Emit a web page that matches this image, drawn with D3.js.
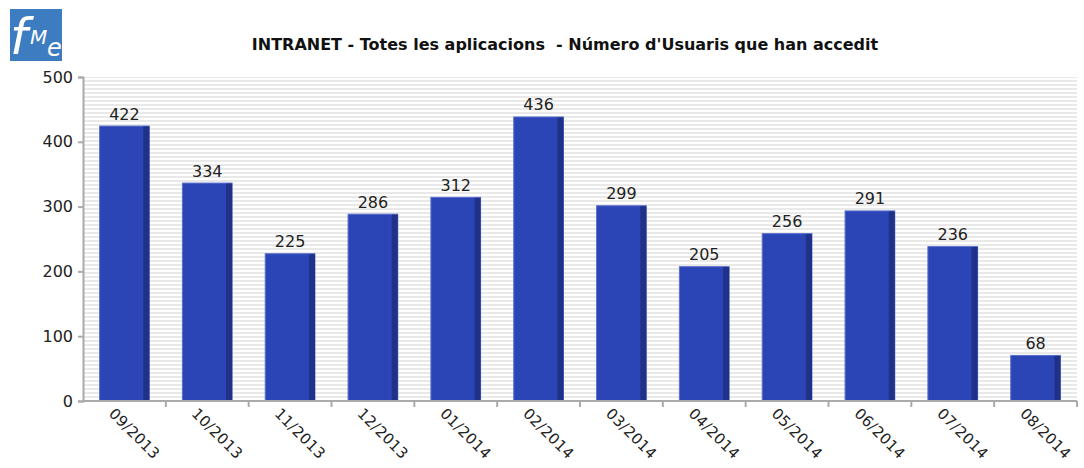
<!DOCTYPE html>
<html>
<head>
<meta charset="utf-8">
<script src="https://cdn.jsdelivr.net/npm/d3@7"></script>
<style>
  body { margin: 0; background: #fff; }
  text { font-family: "DejaVu Sans", sans-serif; }
</style>
</head>
<body>
<div id="chart"></div>
<script>
const months = ['09/2013', '10/2013', '11/2013', '12/2013', '01/2014', '02/2014',
  '03/2014', '04/2014', '05/2014', '06/2014', '07/2014', '08/2014'];
const users = [422, 334, 225, 286, 312, 436, 299, 205, 256, 291, 236, 68];
const yTicks = [0, 100, 200, 300, 400, 500];
const title = "INTRANET - Totes les aplicacions  - Número d'Usuaris que han accedit";

const width = 1084, height = 468;
const margin = { top: 77, right: 7, bottom: 67, left: 83 };

const svg = d3.select('#chart').append('svg')
  .attr('width', width)
  .attr('height', height);

// striped background pattern
const defs = svg.append('defs');
const pat = defs.append('pattern')
  .attr('id', 'stripes')
  .attr('patternUnits', 'userSpaceOnUse')
  .attr('width', 8).attr('height', 4);
pat.append('rect').attr('width', 8).attr('height', 4).attr('fill', '#ffffff');
pat.append('rect').attr('width', 8).attr('height', 2).attr('fill', '#e9e9e9');

const x = d3.scaleBand()
  .domain(months)
  .range([margin.left, width - margin.right])
  .paddingInner(0.4)
  .paddingOuter(0.2);

const y = d3.scaleLinear()
  .domain([0, 500])
  .range([height - margin.bottom, margin.top]);

// plot background
svg.append('rect')
  .attr('x', margin.left).attr('y', margin.top)
  .attr('width', width - margin.left - margin.right)
  .attr('height', y(0) - margin.top)
  .attr('fill', 'url(#stripes)');

// logo
const logo = svg.append('g');
logo.append('rect')
  .attr('x', 10).attr('y', 9).attr('width', 52).attr('height', 52)
  .attr('fill', '#3d7cc0');
logo.append('text')
  .attr('x', 10).attr('y', 54)
  .attr('font-family', '"DejaVu Serif", serif')
  .attr('font-style', 'italic')
  .attr('font-size', 50)
  .attr('fill', '#fff')
  .text('f');
logo.append('text')
  .attr('x', 30).attr('y', 44)
  .attr('font-family', '"DejaVu Serif", serif')
  .attr('font-style', 'italic')
  .attr('font-size', 20)
  .attr('fill', '#fff')
  .text('M');
logo.append('text')
  .attr('x', 47).attr('y', 56)
  .attr('font-family', '"DejaVu Serif", serif')
  .attr('font-style', 'italic')
  .attr('font-size', 24)
  .attr('fill', '#fff')
  .text('e');

// title
svg.append('text')
  .attr('x', 565).attr('y', 50)
  .attr('text-anchor', 'middle')
  .attr('font-size', 16)
  .attr('font-weight', 'bold')
  .attr('fill', '#111')
  .attr('xml:space', 'preserve')
  .style('white-space', 'pre')
  .text(title);

// bars
const bar = svg.append('g')
  .selectAll('g')
  .data(months.map((m, i) => ({ month: m, value: users[i] })))
  .join('g');

bar.append('rect')
  .attr('x', d => x(d.month))
  .attr('y', d => y(d.value) - 1.5)
  .attr('width', x.bandwidth())
  .attr('height', d => y(0) - y(d.value) + 1.5)
  .attr('fill', '#2b45b6')
  .attr('stroke', '#5a6fcc')
  .attr('stroke-width', 1);

bar.append('rect')
  .attr('x', d => x(d.month) + x.bandwidth() - 6)
  .attr('y', d => y(d.value) - 1)
  .attr('width', 6)
  .attr('height', d => y(0) - y(d.value) + 1)
  .attr('fill', '#1f3189');

bar.append('text')
  .attr('x', d => x(d.month) + x.bandwidth() / 2)
  .attr('y', d => y(d.value) - 8)
  .attr('text-anchor', 'middle')
  .attr('font-size', 16)
  .attr('fill', '#222')
  .text(d => d.value);

// y axis
const yAxis = svg.append('g')
  .attr('transform', `translate(${margin.left},0)`)
  .call(d3.axisLeft(y).tickValues(yTicks).tickSize(5).tickPadding(5));
yAxis.select('.domain').attr('stroke', '#aaa').attr('stroke-width', 2);
yAxis.selectAll('.tick line').attr('stroke', '#aaa').attr('stroke-width', 2);
yAxis.selectAll('.tick text')
  .attr('font-family', '"DejaVu Sans", sans-serif')
  .attr('font-size', 16).attr('fill', '#222');

// x axis
const step = x.step();
const xAxis = svg.append('g')
  .attr('transform', `translate(0,${y(0)})`);
xAxis.append('line')
  .attr('x1', margin.left).attr('x2', width - margin.right)
  .attr('stroke', '#aaa').attr('stroke-width', 2);
xAxis.selectAll('.xtick')
  .data(months)
  .join('line')
  .attr('class', 'xtick')
  .attr('x1', d => x(d) + x.bandwidth() + step * 0.2)
  .attr('x2', d => x(d) + x.bandwidth() + step * 0.2)
  .attr('y1', 0).attr('y2', 6)
  .attr('stroke', '#aaa').attr('stroke-width', 2);

xAxis.selectAll('.xlabel')
  .data(months)
  .join('text')
  .attr('class', 'xlabel')
  .attr('transform', d => `translate(${x(d) + x.bandwidth() / 2 - 9},${6}) rotate(45)`)
  .attr('font-size', 15)
  .attr('letter-spacing', 0.3)
  .attr('fill', '#222')
  .attr('dy', '0.7em')
  .text(d => d);
</script>
</body>
</html>
